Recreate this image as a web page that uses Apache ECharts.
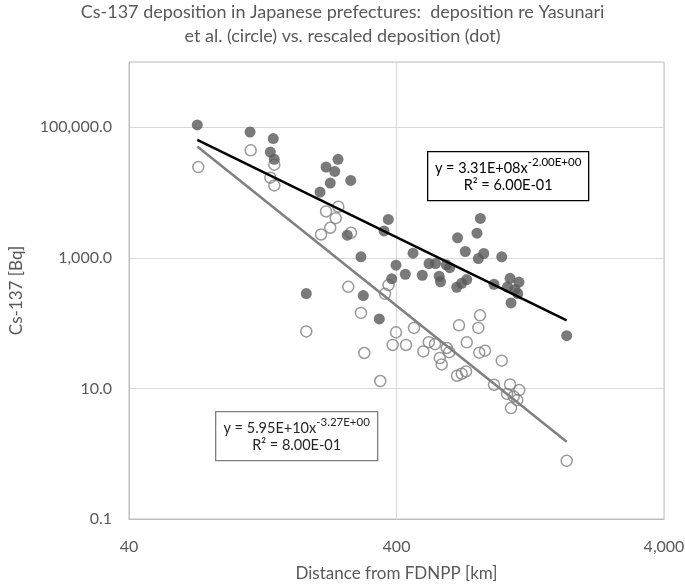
<!DOCTYPE html>
<html>
<head>
<meta charset="utf-8">
<script src="https://cdn.jsdelivr.net/npm/echarts@6/dist/echarts.min.js"></script>
<style>html,body{margin:0;padding:0;background:#fff}#c{width:685px;height:584px}</style>
</head>
<body>
<div id="c"></div>
<script>
// Rescaled deposition (dot): [distance km, Cs-137 Bq]
const dotDistance = [72.0,113.4,138.5,135.0,139.7,218.1,241.8,235.0,226.2,269.7,207.1,261.9,294.6,372.7,359.2,823.2,676.4,799.8,461.1,723.3,847.6,808.9,989.5,398.3,529.2,559.6,614.1,632.4,431.5,499.4,577.8,584.3,383.9,671.8,701.3,732.2,925.9,1063,1148,1040,1110,1136,1072,184.0,300.6,345.0,1731];
const dotValue = [108500,84700,67100,41800,32300,24600,32300,21100,13970,15370,10170,2225,1038,3876,2581,4016,2030,2388,1178,1251,1166,977,1038,771,819,819,782,706,561,541.6,522.9,430.5,476.9,354.4,408.3,465.2,394,485.3,425.9,356.9,326.8,283.8,204.2,283.8,264.3,116.0,64.3];
// Deposition re Yasunari et al. (circle)
const circleDistance = [72.6,114.0,139.7,135.0,139.7,242.4,218.1,237.0,226.2,208.9,270.4,184.0,264.1,294.6,303.2,347.9,373.4,362.3,398.3,387.1,434.1,465.0,820.9,685.1,808.9,528.2,557.2,503.8,616.2,629.6,580.3,590.4,732.2,815.4,856.8,989.5,673.5,701.3,727.8,925.9,1063,1151,1036,1097,1131,1072,1731];
const circleValue = [24600,44380,26770,16910,12880,6071,5141,4058,2891,2281,2423,74.8,359.4,143.4,34.9,12.98,383.1,280.8,72.3,46.3,46.3,84.4,131.8,92.5,84.4,51.1,47.6,36.9,41.6,35.9,29.2,23.3,50.8,35.3,37.9,26.6,15.65,16.8,18.2,11.4,11.5,9.44,8.23,7.53,6.63,5.0,0.777];
// Power trendlines (end points)
const dotTrendX = [72, 1731];
const dotTrendY = [63900, 110.5];
const circleTrendX = [72, 1731];
const circleTrendY = [50700, 1.53];
// Axis ticks
const xTicks = [40, 400, 4000];
const yTicks = [0.1, 10, 1000, 100000, 1000000];
const yLabelTicks = [0.1, 10, 1000, 100000];

const titleText = 'Cs-137 deposition in Japanese prefectures:  deposition re Yasunari\net al. (circle) vs. rescaled deposition (dot)';
const xName = 'Distance from FDNPP [km]';
const yName = 'Cs-137 [Bq]';

const zip = (a, b) => a.map((v, i) => [v, b[i]]);
const FONT = 'Lato, "Open Sans", sans-serif';

function eqBox(x, y, w, h, line1, sup, line2, border, color) {
  const cx = w / 2;
  return {
    type: 'group', left: x, top: y, z: 10,
    children: [
      {type: 'rect', shape: {x: 0, y: 0, width: w, height: h},
       style: {fill: '#fff', stroke: border, lineWidth: 1.3}},
      {type: 'text', x: cx, y: 5,
       style: {text: '{n|' + line1 + '}{s|' + sup + '}', align: 'center', verticalAlign: 'top',
         rich: {
           n: {fontFamily: FONT, fontSize: 14.5, fill: color, color: color, lineHeight: 19, verticalAlign: 'bottom'},
           s: {fontFamily: FONT, fontSize: 11.5, fill: color, color: color, lineHeight: 19, verticalAlign: 'top'}
         }}},
      {type: 'text', x: cx, y: 26,
       style: {text: line2, align: 'center', verticalAlign: 'top',
         font: '14.5px ' + FONT, fill: color}}
    ]
  };
}

const chart = echarts.init(document.getElementById('c'), null, {renderer: 'canvas'});
chart.setOption({
  animation: false,
  backgroundColor: '#ffffff',
  textStyle: {fontFamily: FONT},
  title: {
    text: titleText,
    left: 'center', top: -5,
    textStyle: {fontFamily: FONT, fontSize: 18, fontWeight: 'normal', color: '#595959', lineHeight: 24}
  },
  grid: {left: 129, top: 62, right: 21, bottom: 65, show: true, borderColor: '#bfbfbf', borderWidth: 1,
    outerBoundsMode: 'none', containLabel: false},
  xAxis: {
    type: 'log', logBase: 10, min: 40, max: 4000,
    name: xName, nameLocation: 'middle', nameGap: 46,
    nameTextStyle: {fontFamily: FONT, fontSize: 17, color: '#595959'},
    axisLine: {lineStyle: {color: '#bfbfbf', width: 1}},
    axisTick: {show: false, customValues: xTicks},
    axisLabel: {customValues: xTicks, fontSize: 16, color: '#595959', margin: 20,
      formatter: v => Number(v).toLocaleString('en-US', {maximumFractionDigits: 0})},
    splitLine: {show: true, lineStyle: {color: '#d9d9d9', width: 1}},
    minorTick: {show: false}, minorSplitLine: {show: false}
  },
  yAxis: {
    type: 'log', logBase: 10, min: 0.1, max: 1000000,
    name: yName, nameLocation: 'middle', nameGap: 104, nameRotate: 90,
    nameTextStyle: {fontFamily: FONT, fontSize: 17, color: '#595959'},
    axisLine: {show: true, lineStyle: {color: '#bfbfbf', width: 1}},
    axisTick: {show: false, customValues: yTicks},
    axisLabel: {customValues: yLabelTicks, fontSize: 16, color: '#595959', margin: 17,
      formatter: v => Number(v).toLocaleString('en-US', {minimumFractionDigits: 1, maximumFractionDigits: 1})},
    splitLine: {show: true, lineStyle: {color: '#d9d9d9', width: 1}}
  },
  series: [
    {
      type: 'scatter', name: 'circle', data: zip(circleDistance, circleValue),
      symbol: 'circle', symbolSize: 11,
      itemStyle: {color: 'rgba(255,255,255,0)', borderColor: '#7f7f7f', borderWidth: 1.5},
      z: 2
    },
    {
      type: 'scatter', name: 'dot', data: zip(dotDistance, dotValue),
      symbol: 'circle', symbolSize: 11,
      itemStyle: {color: '#595959'},
      z: 3
    },
    {
      type: 'line', name: 'circle trend', data: zip(circleTrendX, circleTrendY),
      symbol: 'none', lineStyle: {color: '#808080', width: 2.5}, z: 4
    },
    {
      type: 'line', name: 'dot trend', data: zip(dotTrendX, dotTrendY),
      symbol: 'none', lineStyle: {color: '#000000', width: 2.5}, z: 5
    }
  ],
  graphic: [
    eqBox(427, 151, 161, 49, 'y = 3.31E+08x', '-2.00E+00', 'R² = 6.00E-01', '#000', '#000'),
    eqBox(215, 411, 162, 49, 'y = 5.95E+10x', '-3.27E+00', 'R² = 8.00E-01', '#7f7f7f', '#262626')
  ]
});
</script>
</body>
</html>
